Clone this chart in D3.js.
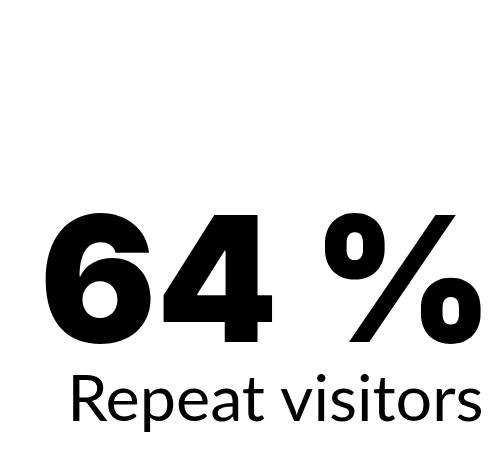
<!DOCTYPE html>
<html lang="en">
<head>
    <meta charset="UTF-8">
    <script src="https://d3js.org/d3.v7.min.js"></script>
    <style>
        body { margin: 0; background: #fff; }
    </style>
</head>
<body>
    <div class="kpi"></div>
    <script>
        // KPI values
        let values = [64]
        let units = ["%"]
        let labels = ["Repeat visitors"]

        let width = 500
        let height = 476

        var svg = d3.select(".kpi").append("svg")
            .attr("width", width)
            .attr("height", height)

        // measure the ink of a string so it can be fitted into a box
        var ctx = document.createElement("canvas").getContext("2d")
        function ink(str, font) {
            ctx.font = font
            var m = ctx.measureText(str)
            return {
                left: m.actualBoundingBoxLeft,
                w: m.actualBoundingBoxLeft + m.actualBoundingBoxRight,
                asc: m.actualBoundingBoxAscent,
                desc: m.actualBoundingBoxDescent
            }
        }

        // big number, fitted to its box in the card
        var bigFamily = "Inter, 'Open Sans', sans-serif"
        var bigText = d3.format("d")(values[0]) + " " + units[0]
        var box = { x0: 45, x1: 482, top: 213, base: 342 }
        var m = ink(bigText, "900 100px " + bigFamily)
        var sx = (box.x1 - box.x0) / m.w
        var sy = (box.base - box.top) / m.asc

        svg.append("text")
            .attr("transform", "translate(" + (box.x0 + m.left * sx) + "," + box.base + ") scale(" + sx + "," + sy + ")")
            .style("font-family", bigFamily)
            .style("font-weight", 900)
            .style("font-size", "100px")
            .style("fill", "#000")
            .text(bigText)

        // label underneath
        var labFamily = "Lato, sans-serif"
        var lab = { x0: 73, x1: 483, base: 421 }
        var l = ink(labels[0], "400 100px " + labFamily)
        var fs = 100 * (lab.x1 - lab.x0) / l.w

        svg.append("text")
            .attr("x", lab.x0 + l.left * fs / 100)
            .attr("y", lab.base)
            .style("font-family", labFamily)
            .style("font-size", fs + "px")
            .style("fill", "#000")
            .text(labels[0])
    </script>
</body>
</html>
